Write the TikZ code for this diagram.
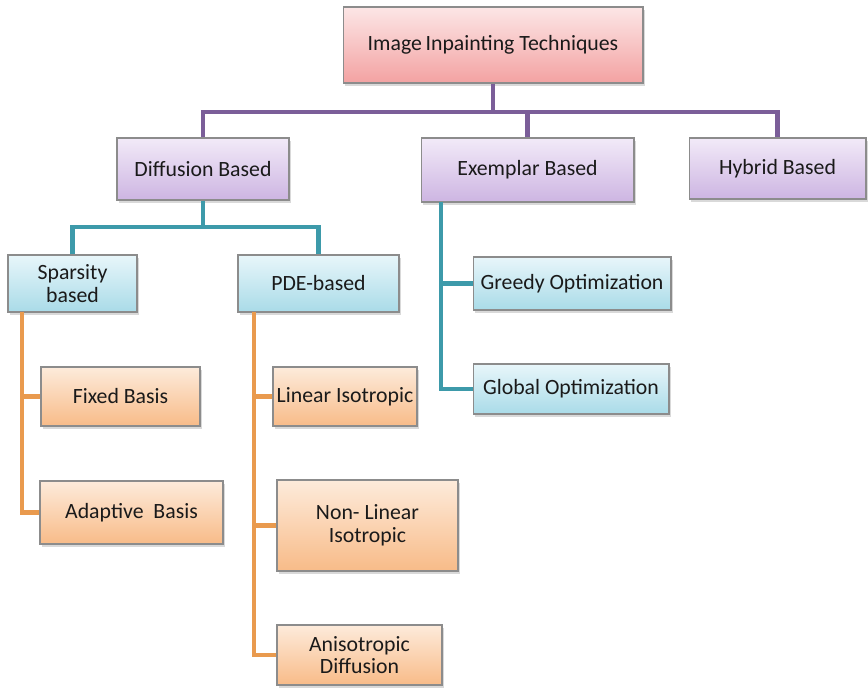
\documentclass[tikz,border=0pt]{standalone}
\usepackage{fontspec}
\setmainfont{Carlito}
\usetikzlibrary{shadows}
\definecolor{rootTop}{HTML}{FCE6E6}
\definecolor{rootBot}{HTML}{F3A2A2}
\definecolor{purTop}{HTML}{F2EAF8}
\definecolor{purBot}{HTML}{CDB5E2}
\definecolor{bluTop}{HTML}{E8F6FA}
\definecolor{bluBot}{HTML}{A9DBE8}
\definecolor{oraTop}{HTML}{FDEBDB}
\definecolor{oraBot}{HTML}{F8BB88}
\definecolor{purLine}{HTML}{7B5E99}
\definecolor{bluLine}{HTML}{3D9AAA}
\definecolor{oraLine}{HTML}{E99A4E}
\definecolor{edgeGray}{HTML}{8C8C8C}
\definecolor{txt}{HTML}{1A1A1A}
\begin{document}
\begin{tikzpicture}[x=0.02cm,y=-0.02cm,
    box/.style={draw=edgeGray,line width=0.6pt,align=center,inner sep=1pt,text=txt,
      font=\fontsize{12.4}{13}\selectfont,
      drop shadow={shadow xshift=1.2pt,shadow yshift=-1.5pt,opacity=0.3}},
    rootbox/.style={box,top color=rootTop,bottom color=rootBot},
    purbox/.style={box,top color=purTop,bottom color=purBot},
    blubox/.style={box,top color=bluTop,bottom color=bluBot},
    orabox/.style={box,top color=oraTop,bottom color=oraBot},
    link/.style={line width=2.3pt}]
    \useasboundingbox (0,0) rectangle (868,691);
    % boxes
    \node[rootbox,minimum width=6cm,minimum height=1.52cm] (root) at (493,45) {Image\,Inpainting Techniques};
    \node[purbox,minimum width=3.44cm,minimum height=1.24cm] (diff) at (203,169) {Diffusion Based};
    \node[purbox,minimum width=4.26cm,minimum height=1.28cm] (exem) at (527.5,170) {Exemplar Based};
    \node[purbox,minimum width=3.54cm,minimum height=1.22cm] (hyb) at (777.5,168.5) {Hybrid Based};
    \node[blubox,minimum width=2.58cm,minimum height=1.14cm] (spar) at (72.5,283.5) {Sparsity\\based};
    \node[blubox,minimum width=3.22cm,minimum height=1.14cm] (pde) at (318.5,283.5) {PDE-based};
    \node[blubox,minimum width=3.96cm,minimum height=1.06cm] (greedy) at (572,283.5) {Greedy Optimization};
    \node[blubox,minimum width=3.92cm,minimum height=1cm] (global) at (571,389) {Global Optimization};
    \node[orabox,minimum width=3.18cm,minimum height=1.18cm] (fixed) at (120.5,396.5) {Fixed Basis};
    \node[orabox,minimum width=3.66cm,minimum height=1.26cm] (adapt) at (131.5,512.5) {Adaptive\ \ Basis};
    \node[orabox,minimum width=2.88cm,minimum height=1.18cm] (linear) at (345,396.5) {Linear Isotropic};
    \node[orabox,minimum width=3.62cm,minimum height=1.82cm] (nonlin) at (367.5,525.5) {Non- Linear\\Isotropic};
    \node[orabox,minimum width=3.3cm,minimum height=1.2cm] (aniso) at (359.5,655) {Anisotropic\\Diffusion};
    % purple level
    \coordinate (topbus) at (0,112);
    \draw[link,purLine] (root.south) -- (root.south |- topbus);
    \draw[link,purLine] (diff.north) |- (topbus -| hyb.north) -- (hyb.north);
    \draw[link,purLine] (exem.north) -- (exem.north |- topbus);
    % teal level
    \coordinate (midbus) at (0,227);
    \draw[link,bluLine] (diff.south) -- (diff.south |- midbus);
    \draw[link,bluLine] (spar.north) |- (midbus -| pde.north) -- (pde.north);
    \coordinate (estem) at (441,202);
    \draw[link,bluLine] (estem) |- (global.west);
    \draw[link,bluLine] (estem |- greedy.west) -- (greedy.west);
    % orange level
    \coordinate (sstem) at (22,312);
    \draw[link,oraLine] (sstem) |- (adapt.west);
    \draw[link,oraLine] (sstem |- fixed.west) -- (fixed.west);
    \coordinate (pstem) at (254,312);
    \draw[link,oraLine] (pstem) |- (aniso.west);
    \draw[link,oraLine] (pstem |- linear.west) -- (linear.west);
    \draw[link,oraLine] (pstem |- nonlin.west) -- (nonlin.west);
\end{tikzpicture}
\end{document}
